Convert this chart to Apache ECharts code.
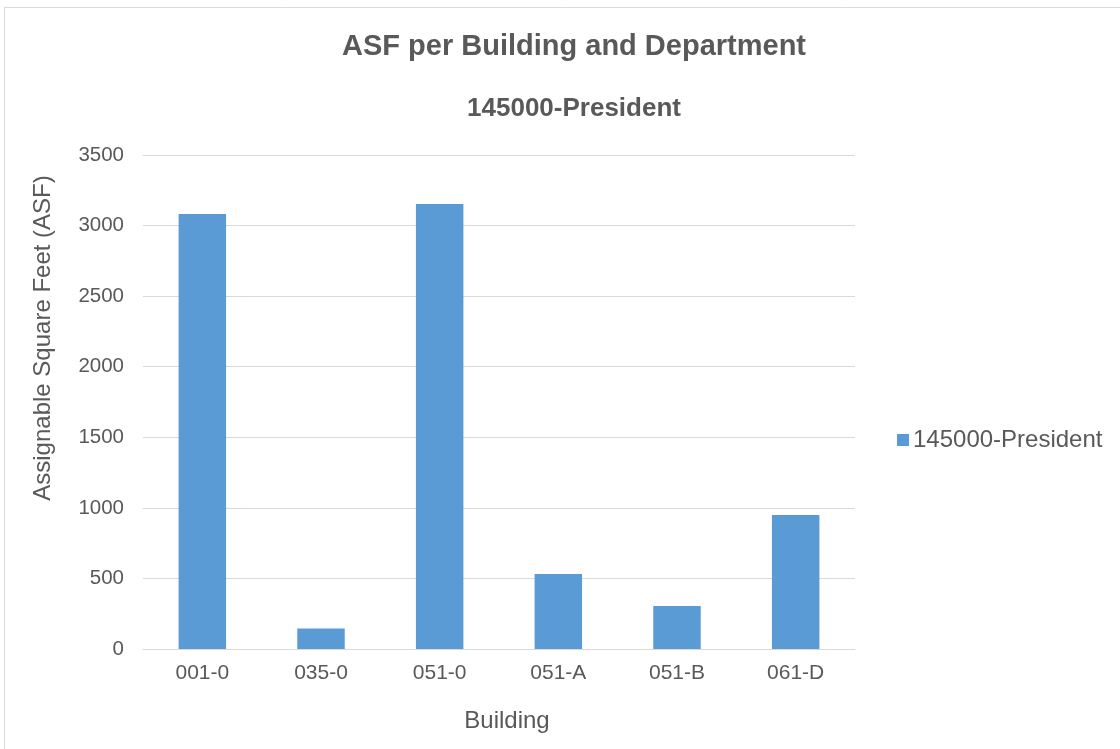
<!DOCTYPE html>
<html>
<head>
<meta charset="utf-8">
<script src="https://cdn.jsdelivr.net/npm/echarts@6/dist/echarts.min.js"></script>
<style>
  html, body { margin: 0; padding: 0; background: #fff; }
  #chart { width: 1120px; height: 749px; }
</style>
</head>
<body>
<div id="chart"></div>
<script>
// values
const buildings = ["001-0", "035-0", "051-0", "051-A", "051-B", "061-D"];
const asfValues = [3082, 145, 3152, 532, 305, 950];
const seriesName = "145000-President";

const textColor = "#595959";
const font = "'Liberation Sans', Arial, sans-serif";

const chart = echarts.init(document.getElementById("chart"));
chart.setOption({
  backgroundColor: "#fff",
  animation: false,
  textStyle: { fontFamily: font },
  graphic: [
    {
      type: "rect",
      shape: { x: 4.5, y: 7.5, width: 1200, height: 800 },
      style: { fill: "none", stroke: "#d9d9d9", lineWidth: 1 },
      silent: true,
    },
  ],
  title: [
    {
      text: "ASF per Building and Department",
      left: 569,
      top: 27,
      textAlign: "center",
      textStyle: { color: textColor, fontSize: 29, fontWeight: "bold", fontFamily: font },
    },
    {
      text: seriesName,
      left: 569,
      top: 91,
      textAlign: "center",
      textStyle: { color: textColor, fontSize: 26, fontWeight: "bold", fontFamily: font },
    },
  ],
  legend: {
    data: [seriesName],
    orient: "vertical",
    left: 892,
    top: 423,
    itemWidth: 12,
    itemHeight: 12,
    icon: "rect",
    textStyle: { color: textColor, fontSize: 24, fontFamily: font, padding: [0, 0, 0, -1] },
    selectedMode: false,
  },
  grid: {
    left: 143,
    right: 265,
    top: 155,
    bottom: 100,
  },
  xAxis: {
    type: "category",
    data: buildings,
    name: "Building",
    nameLocation: "middle",
    nameGap: 60,
    nameTextStyle: { color: textColor, fontSize: 24, fontFamily: font, padding: [0, 0, 0, 16] },
    axisLine: { lineStyle: { color: "#d9d9d9", width: 1 } },
    axisTick: { show: false },
    axisLabel: { color: textColor, fontSize: 21, margin: 14, fontFamily: font },
  },
  yAxis: {
    type: "value",
    min: 0,
    max: 3500,
    interval: 500,
    name: "Assignable Square Feet (ASF)",
    nameLocation: "middle",
    nameGap: 88,
    nameTextStyle: { color: textColor, fontSize: 24, fontFamily: font, padding: [0, 0, 0, 128] },
    axisLine: { show: false },
    axisTick: { show: false },
    axisLabel: {
      color: textColor,
      fontSize: 20.5,
      margin: 19,
      fontFamily: font,
      formatter: (v) => String(v),
    },
    splitLine: { lineStyle: { color: "#d9d9d9", width: 1 } },
  },
  series: [
    {
      name: seriesName,
      type: "bar",
      data: asfValues,
      barWidth: "40%",
      itemStyle: { color: "#5b9bd5" },
    },
  ],
});
</script>
</body>
</html>
